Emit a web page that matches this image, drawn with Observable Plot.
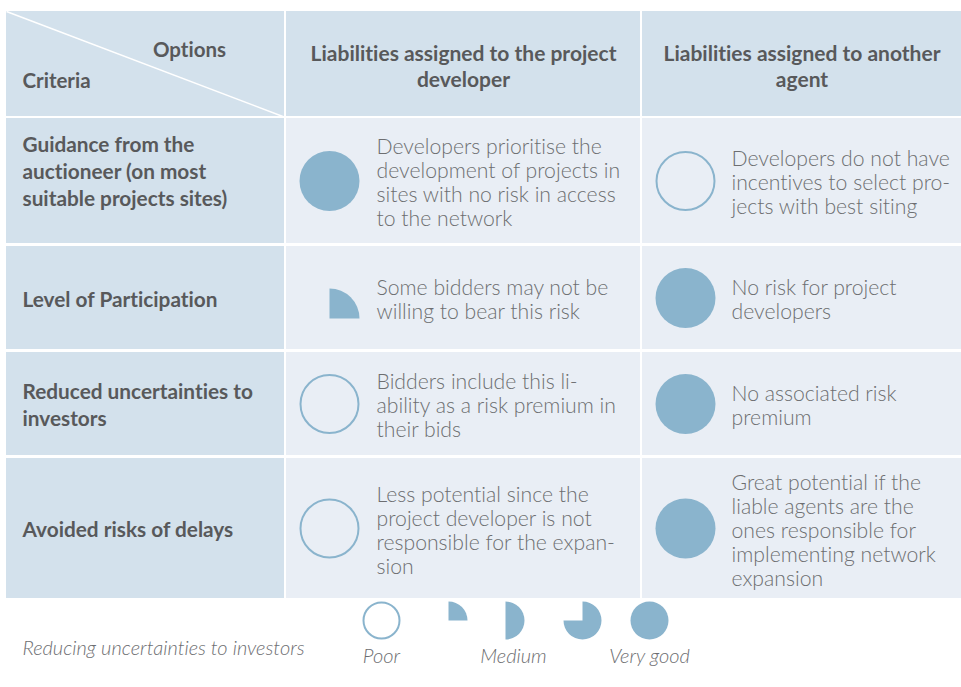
<!DOCTYPE html>
<html>
<head>
<meta charset="utf-8">
<script src="https://cdn.jsdelivr.net/npm/d3@7"></script>
<script src="https://cdn.jsdelivr.net/npm/@observablehq/plot@0.6"></script>
<style>
  html, body { margin: 0; padding: 0; background: #fff; }
  svg text { font-variant-ligatures: none; font-feature-settings: "liga" 0, "clig" 0; }
</style>
</head>
<body>
<div id="chart"></div>
<script>
// ---------- DATA ----------
const cornerOptions = "Options";
const cornerCriteria = "Criteria";
const options = [
  "Liabilities assigned to the project\ndeveloper",
  "Liabilities assigned to another\nagent"
];
const criteria = [
  "Guidance from the\nauctioneer (on most\nsuitable projects sites)",
  "Level of Participation",
  "Reduced uncertainties to\ninvestors",
  "Avoided risks of delays"
];
// rating: 0 = poor (empty), 1 = quarter, 2 = half, 3 = three quarters, 4 = very good (full)
const ratingsDeveloper = [4, 1, 0, 0];
const ratingsAnother = [0, 4, 4, 4];
const notesDeveloper = [
  "Developers prioritise the\ndevelopment of projects in\nsites with no risk in access\nto the network",
  "Some bidders may not be\nwilling to bear this risk",
  "Bidders include this li-\nability as a risk premium in\ntheir bids",
  "Less potential since the\nproject developer is not\nresponsible for the expan-\nsion"
];
const notesAnother = [
  "Developers do not have\nincentives to select pro-\njects with best siting",
  "No risk for project\ndevelopers",
  "No associated risk\npremium",
  "Great potential if the\nliable agents are the\nones responsible for\nimplementing network\nexpansion"
];
const legendTitle = "Reducing uncertainties to investors";
const legendValues = [0, 1, 2, 3, 4];
const legendLabels = ["Poor", "", "Medium", "", "Very good"];

// ---------- LAYOUT ----------
const W = 961, H = 687;
const cols = [[6, 284], [286, 640], [642, 961]];
const rows = [[11, 116], [118, 243], [246, 349], [352, 455], [458, 598]];
const headFill = "#d3e1ec", bodyFill = "#e9eef5";
const ballColor = "#8ab4cd";
const darkText = "#58595b", lightText = "#6d6e71";
const FONT = "Lato, 'Open Sans', sans-serif";
const mid = r => (r[0] + r[1]) / 2;

// cells
const cells = [];
rows.forEach((r, i) => cols.forEach((c, j) => {
  cells.push({x1: c[0], x2: c[1], y1: r[0], y2: r[1], fill: (i === 0 || j === 0) ? headFill : bodyFill});
}));

// balls in table
const ballCx = [329, 685];
const balls = [];
criteria.forEach((_, i) => {
  balls.push({x: ballCx[0], y: mid(rows[i + 1]), rating: ratingsDeveloper[i]});
  balls.push({x: ballCx[1], y: mid(rows[i + 1]), rating: ratingsAnother[i]});
});
// legend balls
const legX = v => 381 + v * 67 + (v === 2 ? -10 : 0);
const legendBalls = legendValues.map(v => ({x: legX(v), y: 620, rating: v}));

// custom Harvey-ball symbols
const rOf = size => Math.sqrt(size / Math.PI);
const wedge = frac => ({
  draw(ctx, size) {
    const r = rOf(size);
    const a0 = -Math.PI / 2, a1 = a0 + frac * 2 * Math.PI;
    if (frac >= 1) { ctx.moveTo(r, 0); ctx.arc(0, 0, r, 0, 2 * Math.PI); ctx.closePath(); return; }
    if (frac === 0.5) { ctx.moveTo(0, -r); ctx.arc(0, 0, r, a0, a1); ctx.closePath(); return; }
    ctx.moveTo(0, 0); ctx.lineTo(0, -r); ctx.arc(0, 0, r, a0, a1); ctx.closePath();
  }
});
const symbolFor = {1: wedge(0.25), 2: wedge(0.5), 3: wedge(0.75), 4: wedge(1)};

function ballMarks(data, R, quarterDy) {
  const marks = [
    Plot.dot(data.filter(d => d.rating === 0), {x: "x", y: "y", r: R - 1, fill: "none", stroke: ballColor, strokeWidth: 2})
  ];
  [1, 2, 3, 4].forEach(k => {
    const sub = data.filter(d => d.rating === k);
    if (sub.length) marks.push(Plot.dot(sub, {x: "x", y: "y", r: R, symbol: symbolFor[k], fill: ballColor, stroke: "none", dy: k === 1 ? quarterDy : 0}));
  });
  return marks;
}

// texts
const headerTexts = options.map((t, j) => ({x: mid(cols[j + 1]), y: 65, text: t}));
const critTexts = criteria.map((t, i) => ({x: 22, y: mid(rows[i + 1]) + (i === 0 ? -11 : 0), text: t}));
const noteTexts = [];
criteria.forEach((_, i) => {
  noteTexts.push({x: 376, y: mid(rows[i + 1]) + 1.5, text: notesDeveloper[i]});
  noteTexts.push({x: 731, y: mid(rows[i + 1]) + 1.5, text: notesAnother[i]});
});
const legendLabelData = legendValues.map((v, k) => ({x: v === 2 ? 513 : legX(v), y: 656, text: legendLabels[k]})).filter(d => d.text);

const HS = 21, CS = 20.8, BS = 21.2, LS = 20;
const chart = Plot.plot({
  width: W, height: H,
  margin: 0,
  x: {domain: [0, W], range: [0, W], axis: null},
  y: {domain: [0, H], range: [0, H], axis: null},
  style: {fontFamily: FONT, background: "#fff"},
  marks: [
    Plot.rect(cells, {x1: "x1", x2: "x2", y1: "y1", y2: "y2", fill: "fill"}),
    Plot.link([{x1: cols[0][0], y1: rows[0][0], x2: cols[0][1] + 1, y2: rows[0][1] + 1}], {x1: "x1", y1: "y1", x2: "x2", y2: "y2", stroke: "#fff", strokeWidth: 1.5}),
    Plot.text([{x: 189, y: 50, text: cornerOptions}], {x: "x", y: "y", text: "text", fontSize: 20.5, fontWeight: 700, fill: darkText}),
    Plot.text([{x: 22, y: 81, text: cornerCriteria}], {x: "x", y: "y", text: "text", textAnchor: "start", fontSize: 20.5, fontWeight: 700, fill: darkText}),
    Plot.text(headerTexts, {x: "x", y: "y", text: "text", lineAnchor: "middle", lineHeight: 26 / HS, fontSize: HS, fontWeight: 700, fill: darkText}),
    Plot.text(critTexts, {x: "x", y: "y", text: "text", textAnchor: "start", lineAnchor: "middle", lineHeight: 27 / CS, fontSize: CS, fontWeight: 700, fill: darkText}),
    Plot.text(noteTexts, {x: "x", y: "y", text: "text", textAnchor: "start", lineAnchor: "middle", lineHeight: 24 / BS, fontSize: BS, fontWeight: 300, fill: lightText}),
    ...ballMarks(balls, 30, 20.5),
    ...ballMarks(legendBalls, 19, 0),
    Plot.text([{x: 22, y: 648, text: legendTitle}], {x: "x", y: "y", text: "text", textAnchor: "start", fontSize: LS, fontStyle: "italic", fontWeight: 300, fill: lightText}),
    Plot.text(legendLabelData, {x: "x", y: "y", text: "text", fontSize: LS, fontStyle: "italic", fontWeight: 300, fill: lightText})
  ]
});
document.getElementById("chart").appendChild(chart);
</script>
</body>
</html>
